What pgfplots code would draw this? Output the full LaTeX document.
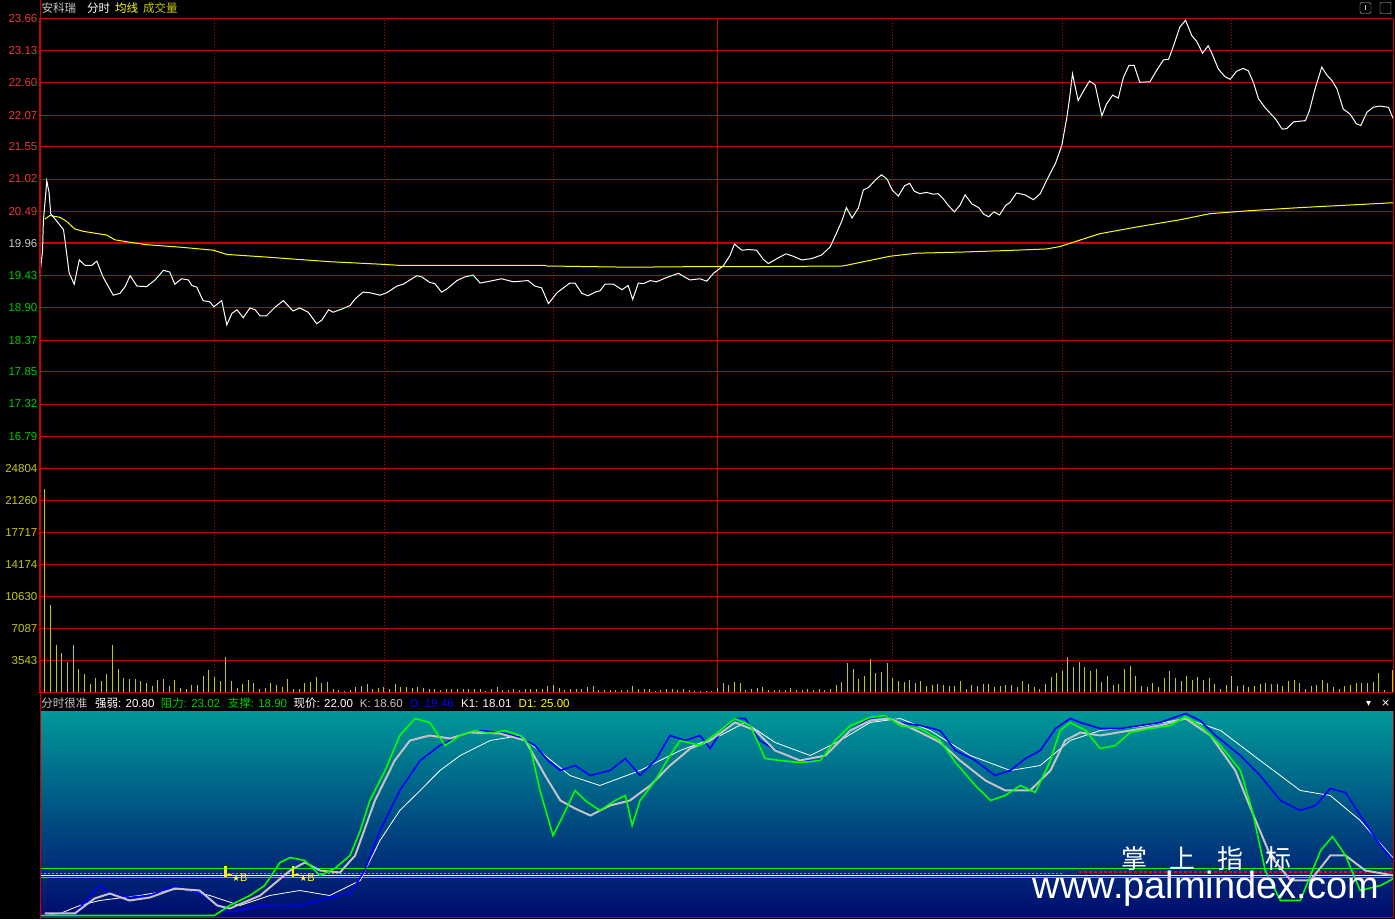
\documentclass[border=0pt]{standalone}
\usepackage{fontspec}
\setmainfont{Liberation Sans}
\newfontfamily\cjk{Noto Sans CJK SC}
\newfontfamily\sym{DejaVu Sans}
\usepackage{pgfplots}
\pgfplotsset{compat=1.18}
\definecolor{gridred}{RGB}{200,0,0}
\definecolor{lblred}{RGB}{240,50,50}
\definecolor{lblgreen}{RGB}{0,200,0}
\definecolor{lblgrey}{RGB}{200,200,200}
\definecolor{volyel}{RGB}{200,200,0}
\definecolor{avgyel}{RGB}{255,255,0}
\definecolor{kgreen}{RGB}{0,255,0}
\definecolor{kblue}{RGB}{0,0,255}
\definecolor{kgrey}{RGB}{195,195,195}
\definecolor{tealtop}{RGB}{0,152,152}
\definecolor{midblue}{RGB}{0,85,140}
\definecolor{navybot}{RGB}{0,10,110}
\pgfplotsset{panel/.style={scale only axis, width=1353pt, anchor=south west,
  xmin=-0.85, xmax=238.5, axis line style={gridred, line width=1pt},
  xtick={30,60,90,150,180,210}, xticklabels={},
  xmajorgrids, major x grid style={gridred, line width=0.9pt, dash pattern=on 1pt off 2pt},
  extra x ticks={119}, extra x tick labels={},
  extra x tick style={xmajorgrids=true, major x grid style={gridred, line width=1pt, solid}},
  ymajorgrids, major y grid style={gridred, line width=1pt},
  tick style={draw=none},
  yticklabel style={font=\fontsize{11.5}{12}\selectfont, anchor=east, inner sep=0pt, xshift=-2.5pt}}}
\begin{document}
\begin{tikzpicture}[x=1pt,y=1pt]
\fill[black] (0,0) rectangle (1395,919);
\shade[top color=tealtop, middle color=midblue, bottom color=navybot] (40,2) rectangle (1393,208);
% ---------- price panel
\begin{axis}[panel, at={(40pt,451pt)}, height=450pt, ymin=16.26, ymax=23.66,
  ytick={16.79,17.32,17.85,18.37,18.90,19.43,19.96,20.49,21.02,21.55,22.07,22.60,23.13,23.66},
  yticklabels={\textcolor{lblgreen}{16.79},\textcolor{lblgreen}{17.32},\textcolor{lblgreen}{17.85},\textcolor{lblgreen}{18.37},\textcolor{lblgreen}{18.90},\textcolor{lblgreen}{19.43},\textcolor{lblgrey}{19.96},\textcolor{lblred}{20.49},\textcolor{lblred}{21.02},\textcolor{lblred}{21.55},\textcolor{lblred}{22.07},\textcolor{lblred}{22.60},\textcolor{lblred}{23.13},\textcolor{lblred}{23.66}}]
\addplot[gridred, line width=2pt, forget plot] coordinates {(-0.85,19.96) (238.5,19.96)};
\addplot[avgyel, line width=1pt] coordinates {(0,20.36) (0.9,20.42) (2.7,20.39) (3.9,20.32) (5.3,20.20) (6.8,20.16) (10.9,20.10) (12.4,20.02) (15.1,19.98) (18.0,19.94) (23.9,19.90) (29.8,19.85) (32.2,19.78) (38.7,19.74) (44.6,19.70) (50.5,19.66) (59.3,19.62) (62.8,19.60) (88.5,19.60) (88.8,19.59) (103.5,19.57) (115.9,19.58) (126.2,19.58) (141.2,19.59) (149.5,19.75) (154.2,19.80) (162.5,19.82) (168.9,19.84) (177.2,19.87) (179.6,19.91) (186.6,20.12) (193.7,20.24) (200.8,20.35) (206.1,20.45) (213.2,20.50) (222.0,20.55) (238.5,20.63)};
\addplot[white, line width=1pt] coordinates {(-0.85,19.46) (-0.4,19.84) (-0.25,20.33) (0,20.60) (0.35,20.99) (0.75,20.80) (1.05,20.45) (3.3,20.19) (3.6,19.99) (4.3,19.48) (5.2,19.29) (6.1,19.69) (7.1,19.60) (8.3,19.60) (9.2,19.67) (10.3,19.41) (12.1,19.11) (13.3,19.14) (14.2,19.25) (15.1,19.43) (16.3,19.26) (18.0,19.25) (19.5,19.36) (21.0,19.52) (22.1,19.49) (23.0,19.29) (24.2,19.38) (25.4,19.36) (26.0,19.27) (26.9,19.24) (28.0,19.02) (29.2,19.00) (29.9,18.92) (31.3,19.02) (32.2,18.62) (33.1,18.81) (34.0,18.87) (35.1,18.74) (36.3,18.90) (37.2,18.87) (38.1,18.77) (39.2,18.77) (40.7,18.91) (42.2,19.02) (43.9,18.85) (45.1,18.90) (46.6,18.83) (48.1,18.64) (49.0,18.70) (50.2,18.87) (51.0,18.83) (52.5,18.88) (54.0,18.94) (54.9,19.05) (56.3,19.16) (57.5,19.15) (59.3,19.11) (60.5,19.15) (62.3,19.26) (63.4,19.29) (65.8,19.43) (66.7,19.41) (68.1,19.32) (69.0,19.30) (70.2,19.16) (71.1,19.21) (72.9,19.35) (74.3,19.41) (75.8,19.44) (77.0,19.31) (78.2,19.33) (80.8,19.38) (82.9,19.33) (85.5,19.35) (86.7,19.26) (87.9,19.23) (89.1,18.97) (90.6,19.15) (92.9,19.31) (93.8,19.31) (95.0,19.14) (96.1,19.10) (97.6,19.17) (98.2,19.18) (99.1,19.29) (100.6,19.29) (102.1,19.20) (103.2,19.27) (104.0,19.04) (105.0,19.31) (105.9,19.30) (107.1,19.35) (108.2,19.33) (110.0,19.40) (112.1,19.47) (114.1,19.36) (115.9,19.38) (117.1,19.34) (118.3,19.47) (120.0,19.59) (121.2,19.76) (122.0,19.95) (123.3,19.85) (124.5,19.86) (125.9,19.85) (127.1,19.70) (128.0,19.63) (129.5,19.71) (131.1,19.79) (132.4,19.75) (133.9,19.69) (135.6,19.71) (137.4,19.77) (138.9,19.90) (140.1,20.14) (141.0,20.33) (141.8,20.55) (142.8,20.38) (143.9,20.54) (144.8,20.84) (145.7,20.88) (146.9,21.00) (148.0,21.09) (149.0,21.02) (149.9,20.84) (151.0,20.74) (152.1,20.91) (153.0,20.95) (153.8,20.82) (154.8,20.78) (156.0,20.80) (157.2,20.77) (158.0,20.78) (158.9,20.70) (159.8,20.59) (160.9,20.48) (161.9,20.59) (162.8,20.76) (164.0,20.61) (165.2,20.55) (166.1,20.44) (167.0,20.40) (167.9,20.48) (168.9,20.43) (170.0,20.59) (170.7,20.63) (171.9,20.79) (173.4,20.76) (174.9,20.68) (176.1,20.78) (177.4,21.03) (178.8,21.28) (179.9,21.57) (180.8,22.03) (181.3,22.36) (181.8,22.75) (182.8,22.31) (183.7,22.46) (184.8,22.63) (185.8,22.57) (187.0,22.06) (187.8,22.25) (188.9,22.40) (189.9,22.35) (190.8,22.69) (191.8,22.89) (192.7,22.89) (193.7,22.61) (195.5,22.62) (196.7,22.81) (197.9,22.98) (198.8,22.99) (199.6,23.19) (200.8,23.52) (201.8,23.63) (202.9,23.38) (203.8,23.28) (204.8,23.09) (205.8,23.21) (206.4,23.10) (207.6,22.83) (208.8,22.70) (209.7,22.66) (210.8,22.79) (212.0,22.84) (212.9,22.80) (213.8,22.61) (214.7,22.34) (215.9,22.19) (217.7,22.01) (218.9,21.84) (219.7,21.85) (220.9,21.96) (223.0,21.98) (223.7,22.14) (224.7,22.50) (225.9,22.86) (226.8,22.73) (227.7,22.64) (228.6,22.50) (229.7,22.17) (230.9,22.09) (232.0,21.93) (232.8,21.90) (233.9,22.12) (235.0,22.20) (236.1,22.22) (237.7,22.20) (238.5,22.02)};
\end{axis}
% ---------- volume panel
\begin{axis}[panel, at={(40pt,227pt)}, height=224pt, ymin=0, ymax=24804,
  ytick={3543,7087,10630,14174,17717,21260,24804},
  yticklabels={\textcolor{volyel}{3543},\textcolor{volyel}{7087},\textcolor{volyel}{10630},\textcolor{volyel}{14174},\textcolor{volyel}{17717},\textcolor{volyel}{21260},\textcolor{volyel}{24804}}]
\addplot[gridred, line width=2pt, forget plot] coordinates {(-0.85,24804) (238.5,24804)};
\addplot[ycomb, volyel, line width=1pt, mark=none] coordinates {(0,22550) (1,9742) (2,5314) (3,4391) (4,3357) (5,5314) (6,2620) (7,2066) (8,959) (9,1623) (10,1328) (11,1993) (12,5314) (13,2550) (14,1554) (15,1518) (16,1446) (17,1265) (18,1012) (19,723) (20,1338) (21,1446) (22,723) (23,1374) (24,542) (25,434) (26,831) (27,795) (28,1880) (29,2531) (30,1735) (31,1265) (32,3977) (33,1229) (34,542) (35,904) (36,1338) (37,1012) (38,434) (39,506) (40,1012) (41,795) (42,651) (43,1446) (44,362) (45,434) (46,1085) (47,1121) (48,1663) (49,1048) (50,1193) (51,434) (52,289) (53,145) (54,289) (55,578) (56,687) (57,904) (58,362) (59,542) (60,615) (61,362) (62,904) (63,578) (64,615) (65,542) (66,615) (67,470) (68,434) (69,362) (70,325) (71,362) (72,362) (73,398) (74,362) (75,362) (76,362) (77,362) (78,181) (79,362) (80,578) (81,289) (82,253) (83,362) (84,289) (85,362) (86,362) (87,362) (88,362) (89,687) (90,795) (91,542) (92,289) (93,362) (94,434) (95,362) (96,578) (97,687) (98,325) (99,253) (100,253) (101,253) (102,253) (103,253) (104,687) (105,362) (106,362) (107,362) (108,181) (109,289) (110,362) (111,362) (112,325) (113,434) (114,289) (115,145) (116,145) (117,181) (118,217) (119,470) (120,1012) (121,795) (122,1121) (123,1012) (124,253) (125,362) (126,470) (127,651) (128,253) (129,253) (130,253) (131,253) (132,470) (133,253) (134,289) (135,362) (136,253) (137,362) (138,289) (139,362) (140,795) (141,1121) (142,3290) (143,2639) (144,1446) (145,1880) (146,3723) (147,2205) (148,2314) (149,3290) (150,1554) (151,1229) (152,1121) (153,1338) (154,1012) (155,1229) (156,687) (157,795) (158,904) (159,795) (160,687) (161,687) (162,1229) (163,362) (164,795) (165,687) (166,904) (167,904) (168,578) (169,687) (170,795) (171,795) (172,578) (173,1229) (174,904) (175,578) (176,362) (177,904) (178,1663) (179,2205) (180,2422) (181,3940) (182,2856) (183,3398) (184,2856) (185,2422) (186,2639) (187,1121) (188,1771) (189,795) (190,904) (191,2639) (192,2964) (193,1771) (194,687) (195,578) (196,1012) (197,578) (198,1554) (199,2422) (200,1554) (201,1229) (202,1771) (203,1338) (204,1663) (205,1338) (206,1554) (207,904) (208,362) (209,795) (210,1771) (211,687) (212,795) (213,578) (214,687) (215,904) (216,1012) (217,904) (218,904) (219,687) (220,1229) (221,1338) (222,1012) (223,362) (224,687) (225,795) (226,1338) (227,1012) (228,578) (229,362) (230,687) (231,795) (232,1012) (233,1012) (234,1012) (235,1121) (236,2205) (237,253) (238.4,2531)};
\end{axis}
% ---------- indicator panel
\begin{axis}[scale only axis, width=1353pt, height=206pt, anchor=south west, at={(40pt,2pt)},
  xmin=-0.85, xmax=238.5, ymin=-0.5, ymax=102.5, axis line style={draw=none},
  xtick=\empty, ytick=\empty]
\addplot[kgreen, line width=1pt] coordinates {(-0.85,24) (238.5,24)};
\addplot[kgreen, line width=1pt] coordinates {(-0.85,19.5) (238.5,19.5)};
\addplot[white, line width=1pt] coordinates {(-0.85,20.5) (238.5,20.5)};
\addplot[kgreen, line width=1.5pt, dash pattern=on 2pt off 2pt] coordinates {(-0.85,21.5) (180,21.5)};
\addplot[red, line width=2pt, dash pattern=on 3pt off 2pt] coordinates {(183,22) (238.5,22)};
% thin white
\addplot[white, line width=0.8pt] coordinates {(0,0.5) (2.7,1.5) (6.2,5.5) (9.7,8) (16.8,10.5) (23.9,14) (29.2,10.5) (34.5,5.5) (39.8,10.5) (45.1,13) (50.4,10.5) (55.8,18) (59.3,38) (62.8,53) (66.4,63) (69.9,73) (73.5,80.5) (78.8,88) (84.1,90.5) (88.5,80.5) (92.9,70.5) (98.2,65.5) (105.3,73) (112.4,83) (119.5,90.5) (123.9,97) (129.2,87) (135.4,80.5) (140.7,88) (146.0,97) (151.3,99) (156.6,93) (163.7,80.5) (170.8,73) (176.1,75.5) (181.4,88) (186.7,93) (193.8,95) (201.8,99) (208.0,93) (215.0,78) (222.1,63) (227.4,60.5) (232.7,48) (238.6,29)};
% blue
\addplot[kblue, line width=1.6pt] coordinates {(0,1.5) (5.3,1.5) (9.7,15.5) (11.5,11.5) (15.0,9.5) (18.6,10.5) (23.0,15.5) (27.4,11.5) (32.7,2) (38.1,5.5) (45.1,5.5) (50.4,9.5) (54.0,11.5) (56.6,23) (59.3,43) (62.8,63) (66.4,78) (69.9,85.5) (73.5,90.5) (77.0,93) (80.5,92) (84.1,89.5) (86.7,85.5) (89.0,78) (91.2,73) (93.8,75.5) (96.5,70.5) (100.0,73) (102.7,79) (105.3,70.5) (108.0,78) (110.6,90.5) (113.3,88) (115.9,90.5) (117.7,84) (119.5,92) (122.1,99) (123.9,99) (126.5,88) (130.1,82) (133.6,78) (137.2,78) (139.8,85.5) (142.5,93) (146.0,99) (148.7,100.5) (151.3,97) (154.9,95.5) (158.4,93) (161.1,83) (164.6,78) (168.1,70.5) (170.8,73) (173.5,79) (176.1,83) (178.8,94) (181.4,99) (183.2,97) (186.7,94) (190.3,94) (193.8,95.5) (197.3,97) (201.8,101.5) (204.4,98) (207.1,90.5) (211.5,80.5) (215.0,70.5) (218.6,58) (222.1,53) (224.8,55.5) (227.4,64) (230.1,62) (232.7,50.5) (236.3,35.5) (238.6,28)};
% grey
\addplot[kgrey, line width=2pt] coordinates {(0,1.5) (5.3,1.5) (8.8,9) (11.5,11.5) (15.0,8) (18.6,9.5) (23.0,14) (27.4,13) (30.5,5.5) (32.7,4) (38.1,10.5) (43.4,23) (46.0,27) (48.7,23) (52.2,22) (54.9,30.5) (58.4,58) (61.9,78) (64.6,88) (68.1,90.5) (71.7,89) (75.2,92) (80.5,91.5) (85.0,88) (88.5,70.5) (91.2,58) (93.8,54) (96.5,50.5) (100.0,55.5) (103.5,58) (107.1,65.5) (110.6,75.5) (114.2,84) (117.7,88) (122.1,97) (125.7,93) (129.2,83) (133.6,78) (138.1,80.5) (142.5,93) (146.0,98) (149.6,99) (154.9,92) (158.4,87) (161.9,78) (166.4,68) (169.9,63) (174.3,63) (177.9,73) (180.5,88) (183.2,92) (186.7,90.5) (192.0,93) (197.3,95.5) (201.8,99) (206.2,90.5) (210.6,73) (214.2,48) (216.8,30.5) (220.4,18) (223.9,18) (227.4,30.5) (230.1,30.5) (233.6,23) (238.6,20.5)};
% green
\addplot[kgreen, line width=1.6pt] coordinates {(-0.85,0.5) (30,0.5) (32.7,5.5) (36.3,10.5) (38.9,15.5) (41.6,27) (43.4,29.5) (46.0,28) (48.7,20.5) (51.3,24) (54.0,30.5) (55.8,43) (57.5,58) (60.2,73) (62.8,90.5) (65.5,99) (68.1,97) (70.8,85.5) (73.5,90.5) (76.1,93) (78.8,91.5) (81.4,93) (84.1,90.5) (85.8,85.5) (87.6,63) (89.9,40.5) (91.7,50.5) (93.8,63) (95.6,58) (98.2,53) (100.9,58) (102.7,60.5) (103.9,45.5) (105.3,58) (108.0,68) (110.6,80.5) (112.4,88) (115.9,85.5) (119.5,93) (122.1,99) (124.8,95.5) (127.4,79) (130.1,78) (133.6,77) (137.2,78) (139.8,88) (142.5,95.5) (146.0,99.5) (148.7,100.5) (151.3,95.5) (154.9,94) (158.4,88) (161.1,77) (164.6,65.5) (167.3,58) (169.9,60.5) (172.6,65.5) (175.2,62) (177.9,78) (179.6,93) (181.4,97) (184.1,93) (186.7,84) (189.4,85.5) (192.0,92) (195.6,94) (199.1,95.5) (201.8,100) (204.4,95.5) (208.0,85.5) (211.5,73) (213.6,53) (215.9,23) (218.6,8) (222.1,8) (225.7,33) (227.8,40) (230.1,30.5) (232.7,13) (236.3,15.5) (238.6,19)};
% B markers
\draw[avgyel, line width=2.5pt] (axis cs:32.0,19.8) -- (axis cs:32.0,25);
\draw[avgyel, line width=2pt] (axis cs:31.8,20.5) -- (axis cs:33.1,20.5);
\node[text=avgyel, anchor=west, inner sep=0pt, font=\fontsize{11}{11}\selectfont] at (axis cs:33.1,19.6) {{\sym\fontsize{9}{9}\selectfont ★}B};
\draw[avgyel, line width=2.5pt] (axis cs:43.9,19.8) -- (axis cs:43.9,25);
\draw[avgyel, line width=2pt] (axis cs:43.7,20.5) -- (axis cs:45.0,20.5);
\node[text=avgyel, anchor=west, inner sep=0pt, font=\fontsize{11}{11}\selectfont] at (axis cs:45.0,19.6) {{\sym\fontsize{9}{9}\selectfont ★}B};
\end{axis}
% frame of indicator
\draw[gridred, line width=1pt] (40,2) -- (1393,2) -- (1393,208);
\draw[gridred, line width=1pt] (40,0) -- (40,919);
% watermark
\node[white, inner sep=0pt, font=\cjk\fontsize{26}{26}\selectfont] at (1206,61) {掌\hspace{22pt}上\hspace{22pt}指\hspace{22pt}标};
\node[white, inner sep=0pt, font=\fontsize{38}{38}\selectfont] at (1206,31) {www.palmindex.com};
% titles
\begin{scope}[every node/.style={anchor=west, inner sep=0pt, font=\cjk\fontsize{11.5}{12}\selectfont}]
\node[text=lblgrey] at (41.5,911) {安科瑞};
\node[text=white] at (87,911) {分时};
\node[text=avgyel] at (115,911) {均线};
\node[text=volyel] at (143,911) {成交量};
\end{scope}
\begin{scope}[every node/.style={anchor=west, inner sep=0pt, font=\fontsize{11.5}{12}\selectfont}]
\node[text=lblgrey] at (41.3,216) {{\cjk 分时很准}};
\node[text=white] at (95,216) {{\cjk 强弱}: 20.80};
\node[text=kgreen!80!black] at (160.7,216) {{\cjk 阻力}: 23.02};
\node[text=kgreen!80!black] at (227.7,216) {{\cjk 支撑}: 18.90};
\node[text=white] at (293.5,216) {{\cjk 现价}: 22.00};
\node[text=lblgrey] at (359.7,216) {K: 18.60};
\node[text=kblue] at (410,216) {D: 19.46};
\node[text=white] at (461,216) {K1: 18.01};
\node[text=avgyel] at (518.5,216) {D1: 25.00};
\node[text=white, font=\sym\fontsize{10}{10}\selectfont] at (1366,216) {▾};
\node[text=white, font=\sym\fontsize{11}{11}\selectfont] at (1381,216) {×};
\end{scope}
\draw[lblgrey, rounded corners=2pt] (1360,906) rectangle (1371,917);
\draw[lblgrey, line width=1.2pt] (1365.5,909) -- (1365.5,914);
\draw[lblgrey, rounded corners=1pt] (1380,906) rectangle (1391,917);
\end{tikzpicture}
\end{document}
